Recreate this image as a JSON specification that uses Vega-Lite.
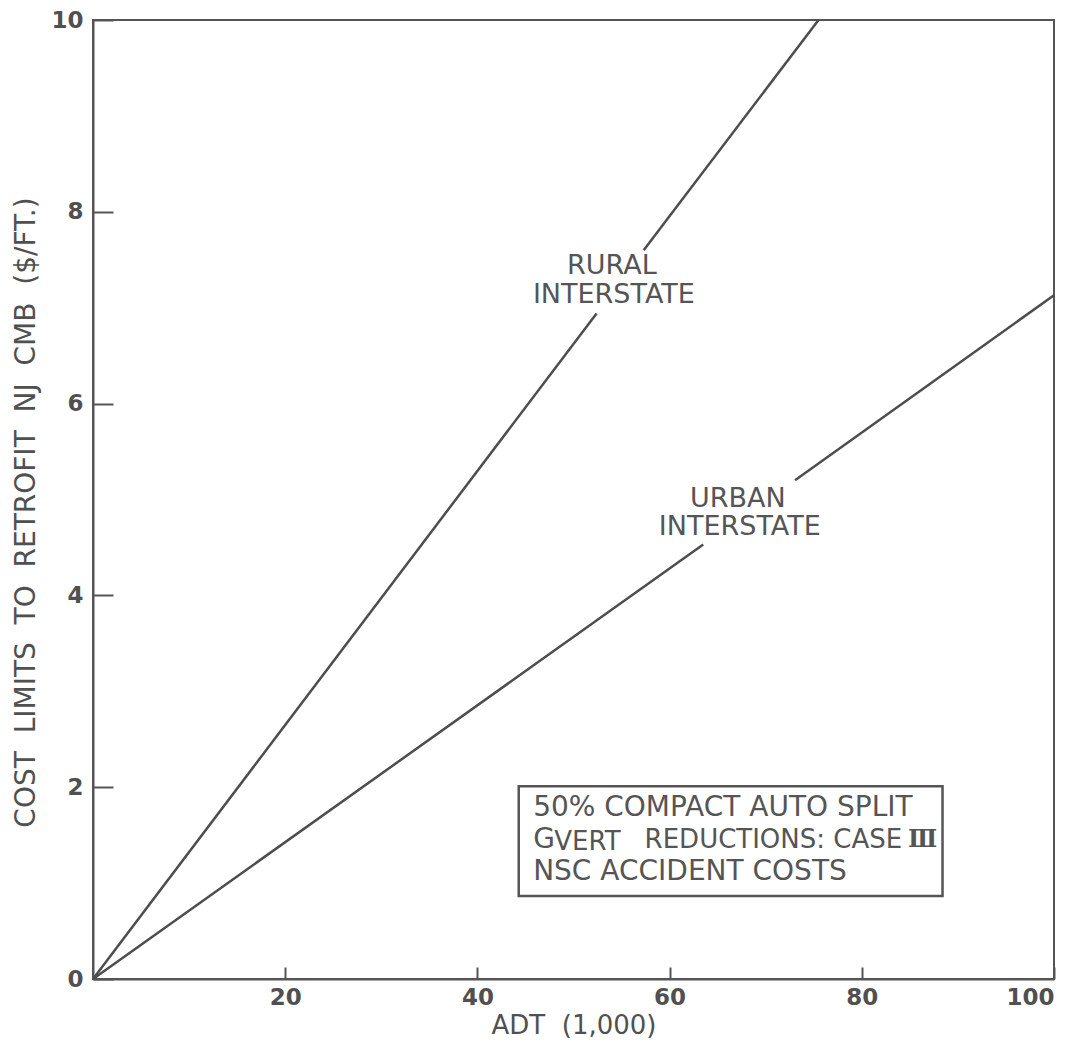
{
  "$schema": "https://vega.github.io/schema/vega-lite/v6.json",
  "width": 961,
  "height": 959,
  "autosize": "none",
  "padding": {"left": 93, "top": 20, "right": 23, "bottom": 74},
  "background": "white",
  "config": {
    "view": {"stroke": "#555555", "strokeWidth": 2},
    "font": "DejaVu Sans",
    "axis": {
      "grid": false,
      "domainColor": "#555555",
      "domainWidth": 2,
      "tickColor": "#555555",
      "tickWidth": 2,
      "labelColor": "#505050",
      "labelFont": "DejaVu Sans",
      "labelFontWeight": "bold",
      "labelFontSize": 23,
      "titleColor": "#505050",
      "titleFont": "DejaVu Sans",
      "titleFontWeight": "normal",
      "titleFontSize": 26
    }
  },
  "datasets": {
    "lines": [
      {"series": "rural-a", "adt": 0, "cost": 0},
      {"series": "rural-a", "adt": 52.4, "cost": 6.94},
      {"series": "rural-b", "adt": 57.3, "cost": 7.6},
      {"series": "rural-b", "adt": 75.5, "cost": 10},
      {"series": "urban-a", "adt": 0, "cost": 0},
      {"series": "urban-a", "adt": 63.5, "cost": 4.53},
      {"series": "urban-b", "adt": 73.05, "cost": 5.2},
      {"series": "urban-b", "adt": 100, "cost": 7.13}
    ],
    "curveLabels": [
      {"label": "RURAL", "adt": 54.0, "cost": 7.43},
      {"label": "INTERSTATE", "adt": 54.2, "cost": 7.13},
      {"label": "URBAN", "adt": 67.1, "cost": 5.01},
      {"label": "INTERSTATE", "adt": 67.3, "cost": 4.71}
    ],
    "box": [
      {"x1": 44.3, "x2": 88.4, "y1": 0.865, "y2": 2.01}
    ],
    "boxText": [
      {"label": "50% COMPACT AUTO SPLIT", "adt": 45.8, "cost": 1.78},
      {"label": "G", "adt": 45.8, "cost": 1.45},
      {"label": "NSC ACCIDENT COSTS", "adt": 45.8, "cost": 1.115}
    ],
    "boxMid": [
      {"label": "VERT", "adt": 48.0, "cost": 1.425},
      {"label": "REDUCTIONS: CASE", "adt": 57.4, "cost": 1.45}
    ],
    "roman": [
      {"label": "Ⅲ", "adt": 84.8, "cost": 1.45}
    ]
  },
  "layer": [
    {
      "data": {"name": "lines"},
      "mark": {"type": "line", "color": "#4d4d4d", "strokeWidth": 2.5},
      "encoding": {
        "x": {
          "field": "adt", "type": "quantitative",
          "scale": {"domain": [0, 100], "nice": false, "zero": false},
          "axis": {
            "title": "ADT \u00a0(1,000)",
            "values": [20, 40, 60, 80, 100],
            "format": "d",
            "tickSize": -12,
            "labelPadding": 19,
            "titleBaseline": "middle",
            "titleY": 46
          }
        },
        "y": {
          "field": "cost", "type": "quantitative",
          "scale": {"domain": [0, 10], "nice": false, "zero": false},
          "axis": {
            "title": "COST \u00a0LIMITS \u00a0TO \u00a0RETROFIT \u00a0NJ \u00a0CMB \u00a0($/FT.)",
            "titleFontSize": 28,
            "values": [0, 2, 4, 6, 8, 10],
            "format": "d",
            "tickSize": -20,
            "labelPadding": 30,
            "titleAngle": 270,
            "titleBaseline": "middle",
            "titleX": -67,
            "titleY": 492
          }
        },
        "detail": {"field": "series"}
      }
    },
    {
      "data": {"name": "curveLabels"},
      "mark": {"type": "text", "font": "DejaVu Sans", "fontSize": 27, "color": "#555555", "align": "center", "baseline": "middle"},
      "encoding": {
        "x": {"field": "adt", "type": "quantitative"},
        "y": {"field": "cost", "type": "quantitative"},
        "text": {"field": "label"}
      }
    },
    {
      "data": {"name": "box"},
      "mark": {"type": "rect", "fill": null, "fillOpacity": 0, "stroke": "#555555", "strokeWidth": 2.5},
      "encoding": {
        "x": {"field": "x1", "type": "quantitative"},
        "x2": {"field": "x2"},
        "y": {"field": "y1", "type": "quantitative"},
        "y2": {"field": "y2"}
      }
    },
    {
      "data": {"name": "boxText"},
      "mark": {"type": "text", "font": "DejaVu Sans", "fontSize": 28, "color": "#555555", "align": "left", "baseline": "middle"},
      "encoding": {
        "x": {"field": "adt", "type": "quantitative"},
        "y": {"field": "cost", "type": "quantitative"},
        "text": {"field": "label"}
      }
    },
    {
      "data": {"name": "boxMid"},
      "mark": {"type": "text", "font": "DejaVu Sans", "fontSize": 26, "color": "#555555", "align": "left", "baseline": "middle"},
      "encoding": {
        "x": {"field": "adt", "type": "quantitative"},
        "y": {"field": "cost", "type": "quantitative"},
        "text": {"field": "label"}
      }
    },
    {
      "data": {"name": "roman"},
      "mark": {"type": "text", "font": "DejaVu Serif", "fontWeight": "bold", "fontSize": 24, "color": "#555555", "align": "left", "baseline": "middle"},
      "encoding": {
        "x": {"field": "adt", "type": "quantitative"},
        "y": {"field": "cost", "type": "quantitative"},
        "text": {"field": "label"}
      }
    }
  ]
}
